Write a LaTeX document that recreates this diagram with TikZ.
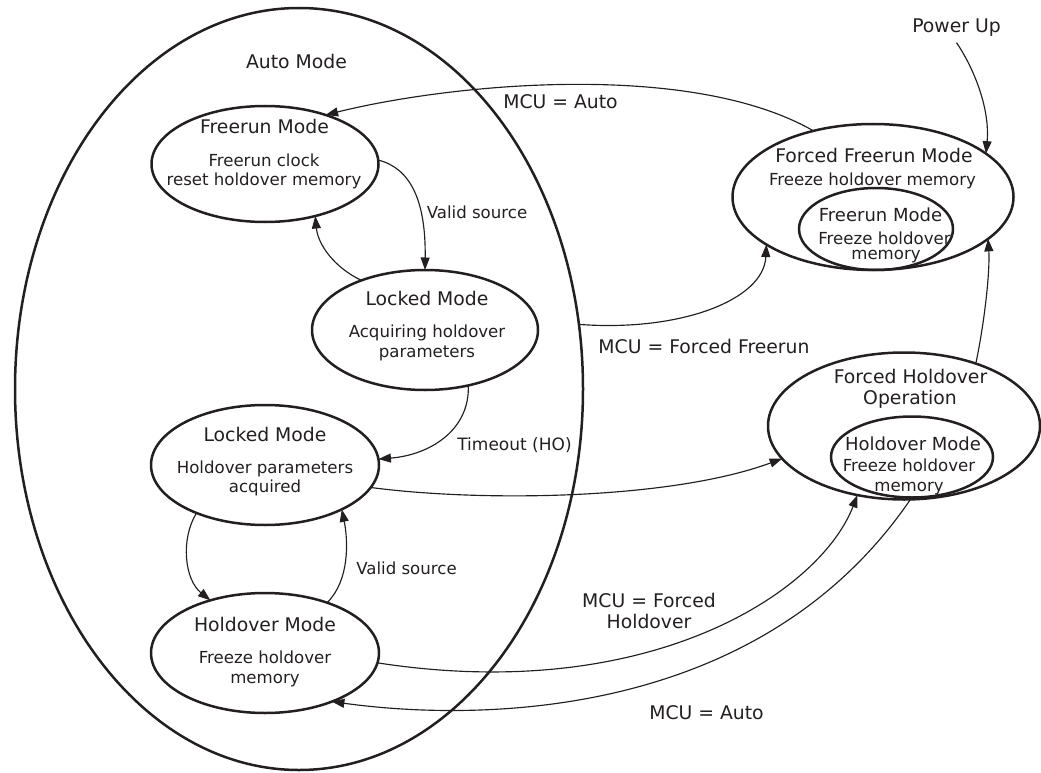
\documentclass[tikz,border=0pt]{standalone}
\usepackage{fontspec}
\setmainfont{DejaVu Sans}
\usetikzlibrary{shapes.geometric,arrows.meta}
\definecolor{ink}{RGB}{35,31,32}
\begin{document}
\begin{tikzpicture}[x=1pt,y=-1pt,
  state/.style={draw=ink, ellipse, line width=2.5pt, inner sep=0pt, outer sep=0pt},
  arr/.style={draw=ink, line width=1.15pt, -{Triangle[length=12.5pt,width=9pt]}},
  big/.style={text=ink, anchor=base, inner sep=0pt, font=\fontsize{18.8}{22}\selectfont},
  mid/.style={text=ink, anchor=base, inner sep=0pt, font=\fontsize{18}{21}\selectfont},
  lab/.style={text=ink, anchor=base, inner sep=0pt, font=\fontsize{17}{20}\selectfont},
  small/.style={text=ink, anchor=base, inner sep=0pt, font=\fontsize{16.6}{19.5}\selectfont}]
\useasboundingbox (0,0) rectangle (1041,773);

% state ellipses
\node[state, minimum width=568pt, minimum height=762pt] (auto) at (299,389) {};
\node[state, minimum width=227pt, minimum height=116pt] (fr) at (265,164) {};
\node[state, minimum width=226pt, minimum height=120pt] (lk1) at (425,330) {};
\node[state, minimum width=228pt, minimum height=120pt] (lk2) at (265,465) {};
\node[state, minimum width=228pt, minimum height=120pt] (ho) at (265,653) {};
\node[state, minimum width=281pt, minimum height=146pt] (ff) at (873,197) {};
\node[state, minimum width=154pt, minimum height=82pt] (ffi) at (876,229) {};
\node[state, minimum width=272pt, minimum height=147pt] (fh) at (904,426) {};
\node[state, minimum width=162pt, minimum height=81pt] (fhi) at (912,457) {};

% texts inside states
\node[big] (tauto) at (296.5,69) {Auto Mode};
\node[big] (tfra) at (264.5,133.5) {Freerun Mode};
\node[small] (tfrb) at (264,166.5) {Freerun clock};
\node[small] (tfrc) at (264,185.5) {reset holdover memory};
\node[big] (tlka) at (427,305.5) {Locked Mode};
\node[small] (tlkb) at (427,337.5) {Acquiring holdover};
\node[small] (tlkc) at (427,357) {parameters};
\node[big] (tlda) at (265,441) {Locked Mode};
\node[small] (tldb) at (265,473) {Holdover parameters};
\node[small] (tldc) at (265,492.6) {acquired};
\node[big] (thoa) at (265,631.5) {Holdover Mode};
\node[small] (thob) at (265,663.5) {Freeze holdover};
\node[small] (thoc) at (265,683.7) {memory};
\node[big] (tffa) at (874,162.7) {Forced Freerun Mode};
\node[small] (tffb) at (872.5,185) {Freeze holdover memory};
\node[mid] (tfia) at (880.5,221.7) {Freerun Mode};
\node[small] (tfib) at (884.5,244.5) {Freeze holdover};
\node[small] (tfic) at (886,259.5) {memory};
\node[big] (tfha) at (910.5,383) {Forced Holdover};
\node[big] (tfhb) at (910,404) {Operation};
\node[mid] (thia) at (913,450.7) {Holdover Mode};
\node[small] (thib) at (909,471.7) {Freeze holdover};
\node[small] (thic) at (909,491) {memory};

% connector labels
\node[big] (pu) at (956.5,33) {Power Up};
\node[big] (lma) at (560.5,108.3) {MCU = Auto};
\node[small] (lvs) at (477,218) {Valid source};
\node[big] (lmf) at (704,353.5) {MCU = Forced Freerun};
\node[lab] (lto) at (514.5,450) {Timeout (HO)};
\node[small] (lvt) at (406.5,574) {Valid source};
\node[big] (lmha) at (649,607) {MCU = Forced};
\node[big] (lmhb) at (649,628) {Holdover};
\node[big] (lmb) at (706.5,719) {MCU = Auto};

% connectors
\draw[arr] (ff.132) .. controls (690,60) and (450,84) .. (fr.39);
\draw[arr] ([yshift=-5.5pt]pu.south) .. controls (975,70) and (990,110) .. (ff.21);
\draw[arr] (fr.2) .. controls (410,168) and (426,200) .. (lk1.90);
\draw[arr] (lk1.142) .. controls (335,268) and (318,245) .. (fr.-46);
\draw[arr] (auto.13) .. controls (680,332) and (764,300) .. (ff.204);
\draw[arr] (lk1.-52) .. controls (470,430) and (430,455) .. (lk2.3);
\draw[arr] (lk2.-12.4) .. controls (480,502) and (670,500) .. (fh.195);
\draw[arr] (lk2.215) .. controls (180,540) and (185,580) .. (ho.136);
\draw[arr] (ho.39.4) .. controls (350,580) and (348,540) .. (lk2.-30.5);
\draw[arr] (ho.-5) .. controls (650,705) and (820,592) .. (fh.236);
\draw[arr] (fh.-85) .. controls (760,720) and (480,722) .. (ho.-36);
\draw[arr] (fh.41) .. controls (985,320) and (990,270) .. (ff.-20);
\end{tikzpicture}
\end{document}
